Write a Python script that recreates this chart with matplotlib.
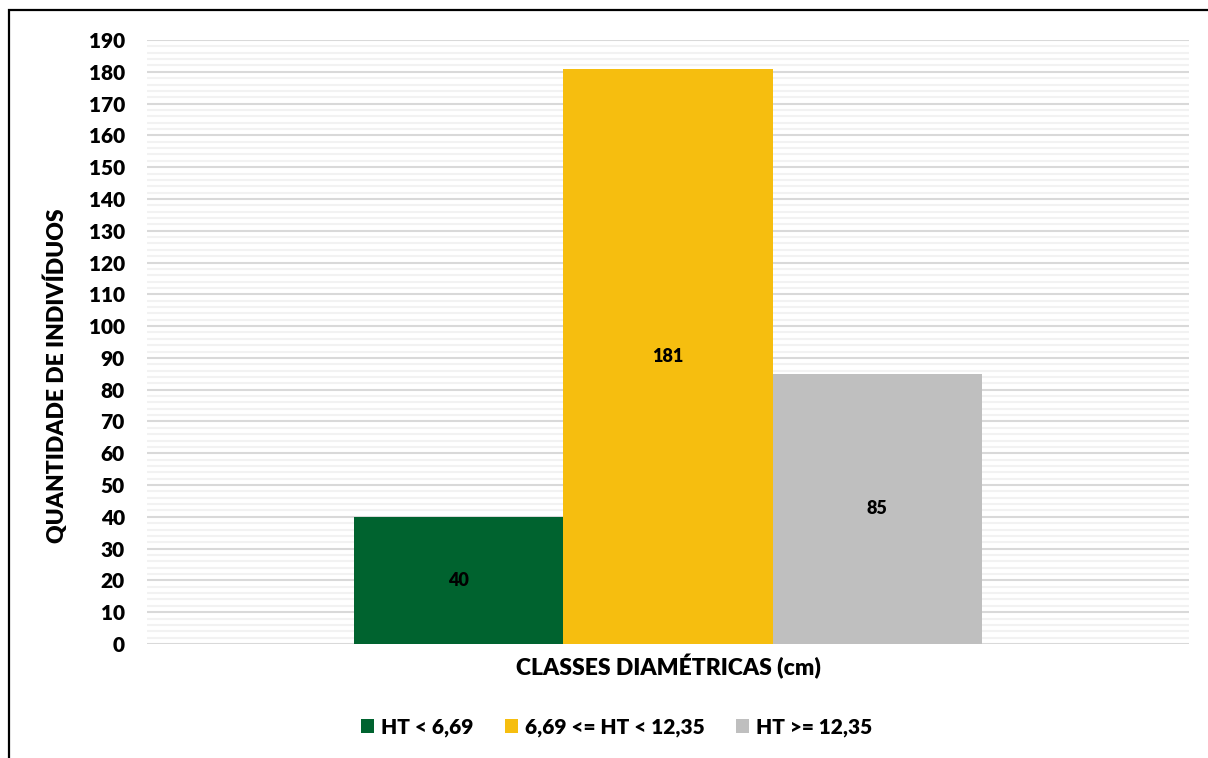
import matplotlib
matplotlib.use("Agg")
import matplotlib.pyplot as plt
from matplotlib.patches import Rectangle
from matplotlib.ticker import MultipleLocator

plt.rcParams['font.family'] = ['Lato', 'DejaVu Sans']
plt.rcParams['font.weight'] = 'heavy'

# Data
series_labels = ["HT < 6,69", "6,69 <= HT < 12,35", "HT >= 12,35"]
counts = [40, 181, 85]
colors = ["#00632F", "#F6BE0F", "#BFBFBF"]
offsets = [-1, 0, 1]
y_ticks = list(range(0, 200, 10))
x_label = "CLASSES DIAMÉTRICAS (cm)"
y_label = "QUANTIDADE DE INDIVÍDUOS"

W, H = 1208, 758
WEIGHT = "heavy"
fig = plt.figure(figsize=(W / 100, H / 100), dpi=100)
fig.patch.set_facecolor("white")

# Outer frame (extends past the right and bottom edges)
fig.patches.append(Rectangle((9 / W, -0.05), 1.2, 1 - 10 / H + 0.05,
                             transform=fig.transFigure, fill=False,
                             edgecolor="black", linewidth=1.6, zorder=0))

ax = fig.add_axes([147 / W, 1 - 644 / H, (1189 - 147) / W, (644 - 40) / H])
ax.set_facecolor("none")

handles = []
for off, val, col, lab in zip(offsets, counts, colors, series_labels):
    b = ax.bar(off, val, width=1.0, color=col, label=lab, zorder=3)
    handles.append(b)
    ax.text(off, val / 2, str(val), ha="center", va="center",
            fontsize=13, fontweight=WEIGHT, color="black", zorder=4)

ax.set_xlim(-2.49, 2.49)
ax.set_ylim(0, 190)
ax.set_yticks(y_ticks)
ax.yaxis.set_minor_locator(MultipleLocator(2))
ax.set_xticks([])
ax.tick_params(axis="y", which="both", length=0, pad=16, labelsize=15)
for t in ax.get_yticklabels():
    t.set_fontweight(WEIGHT)

ax.grid(axis="y", which="minor", color="#F2F2F2", linewidth=1.5, zorder=1)
ax.grid(axis="y", which="major", color="#D9D9D9", linewidth=1.5, zorder=2)
for s in ax.spines.values():
    s.set_visible(False)

ax.set_xlabel(x_label, fontsize=16.5, fontweight=WEIGHT, labelpad=7)
ax.set_ylabel(y_label, fontsize=16.5, fontweight=WEIGHT)
ax.yaxis.set_label_coords(-0.0755, 0.445)

fig.legend(handles=handles, labels=series_labels, loc="center",
           bbox_to_anchor=(617 / W, 1 - 727 / H), ncol=3, frameon=False,
           handlelength=0.62, handleheight=0.62,
           handletextpad=0.35, columnspacing=1.5,
           prop={"weight": WEIGHT, "size": 15})

fig.savefig("out.png", dpi=100, facecolor="white")
